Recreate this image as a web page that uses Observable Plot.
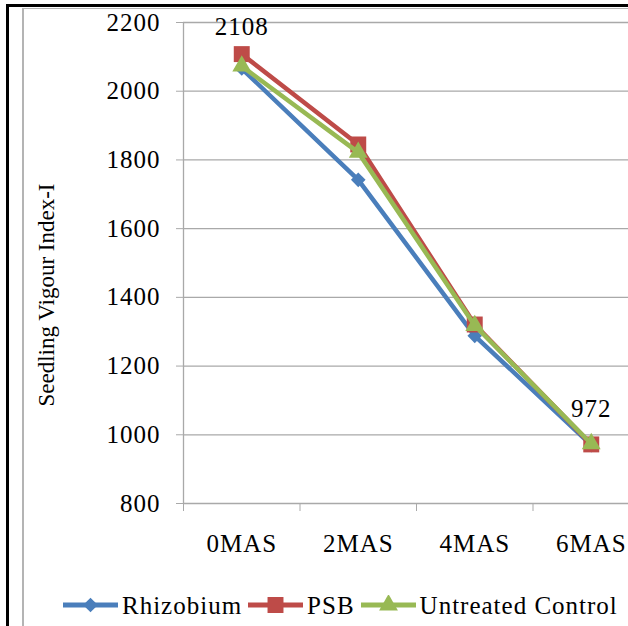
<!DOCTYPE html>
<html>
<head>
<meta charset="utf-8">
<script src="https://cdn.jsdelivr.net/npm/d3@7"></script>
<script src="https://cdn.jsdelivr.net/npm/@observablehq/plot@0.6"></script>
<style>
  html, body { margin: 0; padding: 0; background: #fff; overflow: hidden; }
  #page { position: relative; width: 628px; height: 626px; font-family: "Liberation Serif", "Times New Roman", serif; }
  #chart { position: absolute; left: 0; top: 0; }
  #chart svg text { letter-spacing: 1px; }
  #chart g[aria-description="axis title"] text,
  #chart g[font-size="23"] text { letter-spacing: 0; }
  .edge { position: absolute; }
  #legend { position: absolute; left: 63px; top: 589px; height: 32px; display: flex; align-items: center; font-size: 25px; letter-spacing: 1px; color: #000; white-space: nowrap; }
  #legend .key { display: block; margin-right: 4px; }
  #legend .name { margin-right: 6px; line-height: 32px; position: relative; top: 1px; }
</style>
</head>
<body>
<div id="page">
  <div id="chart"></div>
  <div id="legend"></div>
  <div class="edge" style="left:22px;top:8px;width:2px;height:618px;background:#b4b4b4"></div>
  <div class="edge" style="left:22px;top:8px;width:606px;height:1px;background:#b4b4b4"></div>
  <div class="edge" style="left:6px;top:4px;width:3px;height:622px;background:#000"></div>
  <div class="edge" style="left:6px;top:4px;width:622px;height:3px;background:#000"></div>
</div>
<script>
// Months after storage
const categories = ["0MAS", "2MAS", "4MAS", "6MAS"];

// Seedling vigour index-I per treatment
const rhizobium = [2066, 1742, 1288, 970];
const psb = [2108, 1845, 1321, 972];
const control = [2073, 1822, 1318, 974];

const seriesNames = ["Rhizobium", "PSB", "Untreated Control"];
const seriesColors = ["#4A7EBB", "#BE4B48", "#98B954"];
const seriesSymbols = ["diamond2", "square", "triangle"];
const symbolRadius = [6.6, 9, 7];

const yTicks = [800, 1000, 1200, 1400, 1600, 1800, 2000, 2200];
const yTitle = "Seedling Vigour Index-I";

// Only the first and last PSB points carry a data label
const labelledFirst = 0;
const labelledLast = 3;

const seriesValues = [rhizobium, psb, control];
const seriesRows = seriesValues.map((vals, s) =>
  vals.map((value, i) => ({series: seriesNames[s], i, value}))
);

const grid = "#a9a9a9";
const width = 628, height = 580;

const marks = [
  // horizontal gridlines (the lowest one doubles as the category axis)
  Plot.ruleY(yTicks, {x1: -0.5, x2: 3.5, stroke: grid, strokeWidth: 1.3}),
  // value axis line
  Plot.ruleX([-0.5], {y1: 800, y2: 2200, stroke: grid, strokeWidth: 1.3}),
  Plot.axisY({ticks: yTicks, tickSize: 7, tickPadding: 16, stroke: grid, label: null, tickFormat: d => String(d)}),
  // tick marks between categories
  Plot.axisX({ticks: [-0.5, 0.5, 1.5, 2.5], tickSize: 8, stroke: grid, tickFormat: () => "", label: null}),
  // category names
  Plot.axisX({ticks: [0, 1, 2, 3], tickSize: 0, tickPadding: 31, tickFormat: i => categories[i], label: null}),
  Plot.text([yTitle], {frameAnchor: "left", textAnchor: "middle", rotate: -90, dx: -137, dy: 32, fontSize: 23, fill: "#000", ariaDescription: "axis title"})
];

seriesRows.forEach((rows, s) => {
  marks.push(
    Plot.line(rows, {x: "i", y: "value", stroke: seriesColors[s], strokeWidth: 4.5, strokeLinejoin: "round"}),
    Plot.dot(rows, {x: "i", y: "value", symbol: () => seriesSymbols[s], r: symbolRadius[s], fill: seriesColors[s], stroke: "none"})
  );
});

const psbRows = seriesRows[1];
marks.push(
  Plot.text(psbRows.filter(d => d.i === labelledFirst), {x: "i", y: "value", text: d => String(d.value), dy: -27, fill: "#000"}),
  Plot.text(psbRows.filter(d => d.i === labelledLast), {x: "i", y: "value", text: d => String(d.value), dy: -35, fill: "#000"})
);

const chart = Plot.plot({
  width,
  height,
  marginTop: 22,
  marginBottom: 77,
  marginLeft: 183,
  marginRight: 0,
  style: {fontFamily: "'Liberation Serif', 'Times New Roman', serif", fontSize: "25px", background: "transparent", color: "#000", overflow: "hidden"},
  x: {type: "linear", domain: [-0.5, 3.5], range: [183, 649]},
  y: {type: "linear", domain: [800, 2200]},
  symbol: {type: "identity"},
  marks
});
document.getElementById("chart").appendChild(chart);

// Legend: a short line with the series marker, then its name
const legend = d3.select("#legend");
seriesNames.forEach((name, s) => {
  const key = legend.append("svg").attr("class", "key").attr("width", 55).attr("height", 20);
  key.append("line").attr("x1", 0).attr("x2", 55).attr("y1", 10).attr("y2", 10)
    .attr("stroke", seriesColors[s]).attr("stroke-width", 5);
  const symbolType = [d3.symbolDiamond2, d3.symbolSquare, d3.symbolTriangle][s];
  key.append("path")
    .attr("d", d3.symbol(symbolType, Math.PI * symbolRadius[s] * symbolRadius[s])())
    .attr("transform", "translate(27.5,10)")
    .attr("fill", seriesColors[s]);
  legend.append("span").attr("class", "name").text(name);
});
</script>
</body>
</html>
